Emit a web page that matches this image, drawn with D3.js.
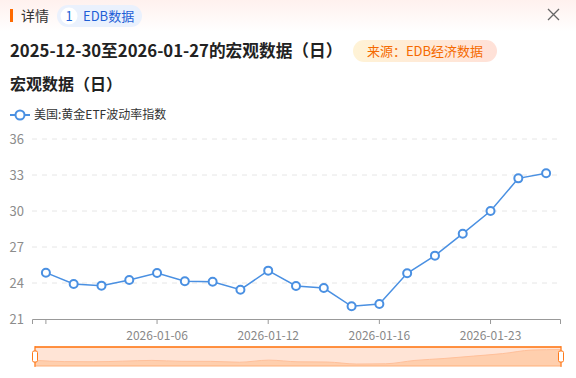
<!DOCTYPE html>
<html><head><meta charset="utf-8">
<script src="https://cdn.jsdelivr.net/npm/d3@7/dist/d3.min.js"></script>
<style>
html,body{margin:0;padding:0;background:#fff;}
svg{display:block;font-family:"Noto Sans CJK SC","Noto Sans",sans-serif;}
</style></head><body>
<svg id="c" width="576" height="378"></svg>
<script>
const categories = ["2025-12-30","2025-12-31","2026-01-02","2026-01-05","2026-01-06","2026-01-07","2026-01-08","2026-01-09","2026-01-12","2026-01-13","2026-01-14","2026-01-15","2026-01-16","2026-01-20","2026-01-21","2026-01-22","2026-01-23","2026-01-26","2026-01-27"];
const values = [24.86,23.92,23.78,24.25,24.83,24.14,24.11,23.44,25.03,23.75,23.58,22.06,22.25,24.81,26.28,28.11,30.00,32.72,33.14];
const yTicks = [21,24,27,30,33,36];
const xLabelIdx = [4,8,12,16];
const seriesName = "美国:黄金ETF波动率指数";
const title = "2025-12-30至2026-01-27的宏观数据（日）";
const subtitle = "宏观数据（日）";
const sourceText = "来源：EDB经济数据";

const svg = d3.select("#c");
const defs = svg.append("defs");
const hg = defs.append("linearGradient").attr("id","hg").attr("x1",0).attr("y1",0).attr("x2",0).attr("y2",1);
hg.append("stop").attr("offset","0").attr("stop-color","#fff1ee");
hg.append("stop").attr("offset","1").attr("stop-color","#ffffff");
const sg = defs.append("linearGradient").attr("id","sg").attr("x1",0).attr("y1",0).attr("x2",1).attr("y2",0);
sg.append("stop").attr("offset","0").attr("stop-color","#fff3d6");
sg.append("stop").attr("offset","1").attr("stop-color","#ffe1d8");

// header
svg.append("rect").attr("x",0).attr("y",0).attr("width",576).attr("height",32).attr("fill","url(#hg)");
svg.append("rect").attr("x",10).attr("y",9).attr("width",3).attr("height",13).attr("fill","#ff6a00");
svg.append("text").attr("x",21).attr("y",21).attr("font-size",14).attr("fill","#333").text("详情");
svg.append("rect").attr("x",57).attr("y",5).attr("width",85).attr("height",22).attr("rx",11).attr("fill","#eaf1fd");
svg.append("circle").attr("cx",69).attr("cy",16).attr("r",8.5).attr("fill","#fff");
svg.append("text").attr("x",69).attr("y",21).attr("text-anchor","middle").attr("font-size",13).attr("fill","#1f5fd6").text("1");
svg.append("text").attr("x",83).attr("y",21).attr("font-size",13).attr("fill","#1f5fd6").text("EDB数据");
svg.append("path").attr("d","M548,9 L559,20 M559,9 L548,20").attr("stroke","#666").attr("stroke-width",1.3).attr("fill","none");

svg.append("text").attr("x",10).attr("y",57).attr("font-size",16.7).attr("font-weight","bold").attr("fill","#222").text(title);
svg.append("rect").attr("x",353).attr("y",40).attr("width",144).attr("height",22).attr("rx",11).attr("fill","url(#sg)");
svg.append("text").attr("x",425).attr("y",56).attr("text-anchor","middle").attr("font-size",13).attr("fill","#f56a00").text(sourceText);
svg.append("text").attr("x",10).attr("y",90).attr("font-size",16).attr("font-weight","bold").attr("fill","#222").text(subtitle);

// legend
const lineColor = "#4a90e2";
svg.append("line").attr("x1",10).attr("x2",30).attr("y1",115).attr("y2",115).attr("stroke",lineColor).attr("stroke-width",2);
svg.append("circle").attr("cx",20).attr("cy",115).attr("r",4.5).attr("fill","#fff").attr("stroke",lineColor).attr("stroke-width",2);
svg.append("text").attr("x",34).attr("y",119).attr("font-size",12).attr("fill","#333").text(seriesName);

// chart
const x = d3.scaleBand().domain(categories).range([32,560]);
const y = d3.scaleLinear().domain([21,36]).range([319,139]);
const cx = d => x(d) + x.bandwidth()/2;

const g = svg.append("g");
g.selectAll(".grid").data(yTicks.filter(t=>t!==21)).enter().append("line")
  .attr("x1",32).attr("x2",560).attr("y1",d=>y(d)).attr("y2",d=>y(d))
  .attr("stroke","#e6e6e6").attr("stroke-dasharray","5,5");
g.selectAll(".yl").data(yTicks).enter().append("text")
  .attr("x",24).attr("y",d=>y(d)+4.5).attr("text-anchor","end").attr("font-size",13).attr("fill","#8c8c8c").text(d=>d);

const xAxis = d3.axisBottom(x).tickValues(categories.filter((c,i)=>i%4===0)).tickSize(5).tickFormat(d=>xLabelIdx.includes(categories.indexOf(d))?d:"");
const ax = svg.append("g").attr("transform","translate(0,319)").call(xAxis);
ax.select(".domain").attr("stroke","#999");
ax.selectAll(".tick line").attr("stroke","#999");
ax.selectAll(".tick text").attr("fill","#888").attr("font-size",12).attr("dy","1.1em").attr("font-family","Noto Sans CJK SC, sans-serif");

const line = d3.line().x((d,i)=>cx(categories[i])).y(d=>y(d));
svg.append("path").datum(values).attr("d",line).attr("fill","none").attr("stroke",lineColor).attr("stroke-width",1.5);
svg.selectAll(".pt").data(values).enter().append("circle")
  .attr("cx",(d,i)=>cx(categories[i])).attr("cy",d=>y(d)).attr("r",4)
  .attr("fill","#fff").attr("stroke",lineColor).attr("stroke-width",2);

// data zoom slider
const sx0 = 35, sx1 = 561, sy0 = 347, sy1 = 366;
svg.append("rect").attr("x",sx0).attr("y",sy0).attr("width",sx1-sx0).attr("height",sy1-sy0).attr("fill","#ffe4d6");
const sxs = d3.scalePoint().domain(categories).range([sx0,sx1]);
const sys = d3.scaleLinear().domain([d3.min(values)-1.5,d3.max(values)]).range([sy1,sy0+2.5]);
const area = d3.area().x((d,i)=>sxs(categories[i])).y0(sy1).y1(d=>sys(d)).curve(d3.curveMonotoneX);
svg.append("path").datum(values).attr("d",area).attr("fill","#ffcfae");
svg.append("path").datum(values).attr("d",d3.line().x((d,i)=>sxs(categories[i])).y(d=>sys(d)).curve(d3.curveMonotoneX)).attr("fill","none").attr("stroke","#ffc09a").attr("stroke-width",1);
svg.append("rect").attr("x",sx0).attr("y",sy0).attr("width",sx1-sx0).attr("height",sy1-sy0).attr("fill","none").attr("stroke","#ffb07a").attr("stroke-width",1);
svg.append("line").attr("x1",sx0).attr("x2",sx1).attr("y1",sy0).attr("y2",sy0).attr("stroke","#ff7a1a").attr("stroke-width",1.5);
[sx0,sx1].forEach(hx=>{
  svg.append("line").attr("x1",hx).attr("x2",hx).attr("y1",sy0-1).attr("y2",sy1+1).attr("stroke","#ff7a1a").attr("stroke-width",1);
  svg.append("rect").attr("x",hx-2.5).attr("y",351).attr("width",5).attr("height",11).attr("rx",1.5).attr("fill","#fff").attr("stroke","#ff7a1a").attr("stroke-width",1);
});
</script>
</body></html>
